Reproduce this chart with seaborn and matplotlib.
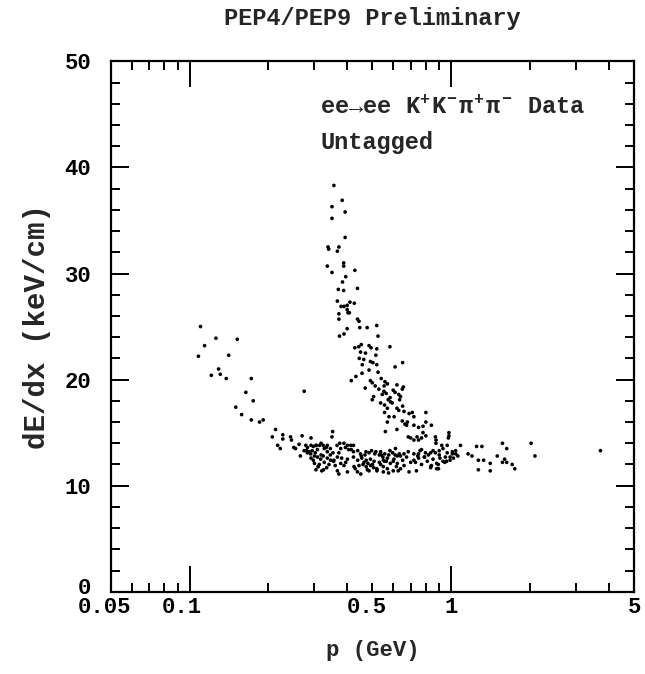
import matplotlib
matplotlib.use("Agg")
import matplotlib.pyplot as plt
import matplotlib.transforms as mtransforms
import pandas as pd
import seaborn as sns
from matplotlib.ticker import FixedLocator, FixedFormatter

# ---- data: (p [GeV], dE/dx [keV/cm]) ----
kaon_p = [0.356, 0.383, 0.350, 0.393, 0.350, 0.393, 0.338, 0.340, 0.372, 0.367,
          0.388, 0.388, 0.336, 0.428, 0.350, 0.395, 0.384, 0.370, 0.388, 0.438,
          0.367, 0.410, 0.400, 0.426, 0.379, 0.389, 0.400, 0.408, 0.403, 0.372,
          0.372, 0.438, 0.444, 0.400, 0.447, 0.477, 0.519, 0.374, 0.389, 0.525,
          0.583, 0.428, 0.443, 0.453, 0.485, 0.494, 0.519, 0.450, 0.470, 0.515,
          0.445, 0.463, 0.491, 0.502, 0.519, 0.652, 0.457, 0.485, 0.525, 0.456,
          0.432, 0.415, 0.491, 0.499, 0.512, 0.540, 0.558, 0.570, 0.554, 0.469,
          0.529, 0.620, 0.650, 0.656, 0.553, 0.564, 0.505, 0.499, 0.574, 0.584,
          0.586, 0.610, 0.630, 0.640, 0.635, 0.537, 0.556, 0.570, 0.595, 0.652,
          0.620, 0.630, 0.556, 0.578, 0.605, 0.710, 0.720, 0.800, 0.570, 0.650,
          0.665, 0.675, 0.680, 0.720, 0.750, 0.780, 0.800, 0.840, 0.560, 0.620,
          0.685, 0.700, 0.720, 0.740, 0.750, 0.770, 0.780, 0.800, 0.870, 0.875,
          0.980, 0.980, 0.975, 0.610, 0.545, 0.660, 0.690, 0.600]
kaon_dedx = [38.3, 36.9, 36.3, 35.8, 35.2, 33.4, 32.5, 32.3, 32.5, 32.1,
             31.0, 30.7, 30.7, 30.3, 30.1, 29.7, 29.2, 28.5, 28.4, 28.6,
             27.4, 27.3, 27.0, 27.2, 26.9, 26.9, 26.6, 26.3, 26.3, 26.2,
             25.7, 25.7, 25.5, 24.8, 24.9, 24.9, 25.1, 24.1, 24.3, 24.1,
             23.1, 23.0, 23.1, 23.3, 23.2, 23.0, 22.9, 22.6, 22.5, 22.3,
             22.0, 21.9, 21.7, 21.6, 21.4, 21.6, 21.4, 20.9, 20.7, 20.6,
             20.3, 19.9, 19.9, 19.7, 19.4, 20.1, 19.8, 19.6, 19.4, 19.2,
             19.1, 19.5, 19.1, 19.3, 18.9, 18.7, 18.4, 18.1, 18.1, 18.3,
             17.9, 18.8, 18.6, 18.4, 18.1, 17.8, 17.6, 17.3, 17.8, 17.5,
             17.3, 17.1, 16.9, 16.5, 16.5, 16.9, 16.5, 16.9, 16.0, 16.1,
             15.8, 15.7, 16.0, 15.7, 15.5, 15.6, 16.0, 15.7, 15.1, 15.3,
             14.6, 14.5, 14.3, 14.6, 14.3, 14.5, 15.0, 14.7, 14.6, 14.3,
             15.0, 14.7, 14.5, 21.2, 18.6, 17.0, 16.8, 19.0]

pion_low_p = [0.110, 0.126, 0.152, 0.114, 0.108, 0.141, 0.129, 0.121, 0.131, 0.138,
              0.172, 0.164, 0.175, 0.274, 0.150, 0.158, 0.172, 0.185, 0.191, 0.213,
              0.207, 0.227, 0.227, 0.217, 0.222, 0.243, 0.245, 0.250, 0.254, 0.269,
              0.291, 0.352, 0.350]
pion_low_dedx = [25.0, 23.9, 23.8, 23.2, 22.2, 22.3, 21.0, 20.4, 20.5, 20.1,
                 20.1, 18.8, 18.0, 18.9, 17.4, 16.7, 16.2, 16.0, 16.2, 15.3,
                 14.6, 14.8, 14.4, 13.8, 13.5, 14.6, 14.3, 13.6, 13.5, 14.7,
                 14.5, 15.1, 14.6]

pion_flat_p = [0.278, 0.282, 0.291, 0.297, 0.304, 0.314, 0.324, 0.336, 0.333,
               0.274, 0.282, 0.294, 0.302, 0.308,
               0.291, 0.297, 0.308, 0.317, 0.324, 0.336, 0.346,
               0.300, 0.313, 0.327, 0.341, 0.304, 0.320, 0.334,
               0.367, 0.372, 0.401,
               0.366, 0.375, 0.389, 0.401, 0.413, 0.423, 0.378, 0.394, 0.353,
               0.367, 0.381, 0.401, 0.423, 0.378, 0.389,
               0.439, 0.450, 0.468, 0.485, 0.496, 0.515, 0.531, 0.548, 0.557, 0.577,
               0.597, 0.622, 0.633,
               0.439, 0.455, 0.473, 0.491, 0.507, 0.531, 0.550, 0.570, 0.600, 0.622, 0.652,
               0.444, 0.473, 0.492, 0.519, 0.550, 0.570, 0.617,
               0.438, 0.451, 0.485, 0.550, 0.576, 0.627,
               0.685, 0.720, 0.745, 0.770, 0.797, 0.818, 0.852, 0.870, 0.900, 0.930,
               0.965, 0.990, 1.040, 1.060, 1.085,
               0.720, 0.750, 0.810, 0.852, 0.880, 0.960, 0.990, 1.020,
               0.835, 0.880, 0.892, 0.840,
               0.690, 0.736, 0.834, 0.894,
               0.874, 0.920, 0.965,
               1.160, 1.200, 1.250, 1.270, 1.310, 1.330, 1.410, 1.270, 1.410,
               1.500, 1.570, 1.630, 1.600, 1.630, 1.710, 1.750, 1.570,
               2.020, 2.090, 3.720,
               0.262, 0.286, 0.318, 0.345, 0.360, 0.395, 0.415, 0.460, 0.505, 0.540,
               0.585, 0.612, 0.660, 0.700, 0.760, 0.790, 0.905, 0.945, 1.010, 0.265,
               0.310, 0.355, 0.430, 0.480, 0.520, 0.565, 0.640, 0.675]
pion_flat_dedx = [13.8, 13.6, 13.8, 13.7, 13.8, 13.8, 13.8, 13.8, 13.6,
                  13.3, 13.1, 13.3, 13.1, 13.4,
                  12.6, 12.4, 12.7, 12.5, 12.8, 12.6, 12.4,
                  12.1, 12.0, 12.2, 12.0, 11.5, 11.4, 11.7,
                  11.4, 11.1, 11.3,
                  13.8, 14.0, 14.0, 13.8, 13.8, 13.8, 13.5, 13.6, 13.1,
                  12.7, 12.6, 12.5, 12.7, 12.1, 11.9,
                  13.3, 13.0, 12.9, 13.1, 13.3, 13.2, 12.9, 12.7, 13.0, 12.9,
                  13.1, 12.8, 13.0,
                  12.4, 12.6, 12.4, 12.5, 12.3, 12.2, 12.4, 12.6, 12.3, 12.1, 12.4,
                  11.9, 11.8, 11.9, 11.6, 11.8, 11.6, 11.8,
                  11.3, 11.1, 11.4, 11.3, 11.2, 11.4,
                  13.2, 13.0, 12.8, 13.4, 13.1, 12.9, 13.3, 13.1, 12.9, 13.5,
                  13.1, 12.7, 13.0, 12.8, 13.8,
                  12.4, 12.6, 12.3, 12.5, 12.1, 12.3, 12.4, 12.6,
                  11.8, 11.6, 12.0, 11.9,
                  11.3, 11.4, 11.7, 11.6,
                  14.0, 13.8, 13.8,
                  13.0, 12.8, 13.7, 12.4, 13.7, 12.4, 12.1, 11.5, 11.4,
                  12.8, 14.0, 13.5, 12.5, 12.2, 12.0, 11.6, 12.2,
                  14.0, 12.8, 13.3,
                  13.9, 13.2, 12.9, 13.5, 11.9, 12.2, 13.4, 12.0, 11.7, 12.9,
                  12.1, 13.5, 11.9, 12.2, 13.3, 12.7, 12.6, 12.2, 13.2, 12.8,
                  11.8, 12.3, 11.6, 12.1, 11.5, 12.3, 11.6, 12.7]

pion_band2_p = [0.280, 0.305, 0.318, 0.327, 0.372, 0.405, 0.423, 0.453, 0.472, 0.510,
                0.537, 0.583, 0.610, 0.464, 0.500, 0.537, 0.556, 0.604, 0.750, 0.790,
                0.834, 0.900, 0.950, 1.010, 1.040, 0.640, 0.660, 0.730, 0.770, 0.930,
                0.290, 0.300, 0.336, 0.345, 0.356, 0.310, 0.325, 0.425, 0.478, 0.520,
                0.600]
pion_band2_dedx = [13.3, 13.8, 14.0, 13.5, 13.1, 13.4, 13.2, 12.8, 13.2, 13.0,
                   13.2, 13.3, 12.9, 12.2, 12.0, 12.0, 12.3, 12.5, 13.0, 12.7,
                   13.1, 13.3, 12.7, 13.0, 13.3, 12.8, 13.0, 12.2, 12.0, 12.3,
                   13.0, 12.8, 13.2, 12.9, 12.4, 11.8, 11.5, 11.8, 11.5, 11.4,
                   11.4]

x_tick_vals = [0.05, 0.1, 0.5, 1, 5]
x_tick_labels = ["0.05", "0.1", "0.5", "1", "5"]
x_minor_vals = [0.06, 0.07, 0.08, 0.09, 0.2, 0.3, 0.4, 0.6, 0.7, 0.8, 0.9, 2, 3, 4]
y_tick_vals = [0, 10, 20, 30, 40, 50]

df = pd.DataFrame({
    "p": kaon_p + pion_low_p + pion_flat_p + pion_band2_p,
    "dedx": kaon_dedx + pion_low_dedx + pion_flat_dedx + pion_band2_dedx,
})

sns.set_style("ticks")
FONT = ["Liberation Mono", "DejaVu Sans Mono"]
plt.rcParams["font.family"] = FONT
plt.rcParams["font.weight"] = "bold"
plt.rcParams["mathtext.fontset"] = "custom"
plt.rcParams["mathtext.rm"] = "Liberation Mono:bold"
plt.rcParams["mathtext.it"] = "Liberation Mono:bold"
plt.rcParams["mathtext.bf"] = "Liberation Mono:bold"

fig = plt.figure(figsize=(6.45, 6.74), dpi=100)
ax = fig.add_axes([0.172, 0.122, 0.811, 0.787])

sns.scatterplot(data=df, x="p", y="dedx", ax=ax, color="black", s=7,
                marker="o", edgecolor="none", linewidth=0, legend=False)

ax.set_xscale("log")
ax.set_xlim(0.05, 5)
ax.set_ylim(0, 50)

ax.xaxis.set_major_locator(FixedLocator(x_tick_vals))
ax.xaxis.set_major_formatter(FixedFormatter(x_tick_labels))
ax.xaxis.set_minor_locator(FixedLocator(x_minor_vals))
ax.xaxis.set_minor_formatter(FixedFormatter([""] * len(x_minor_vals)))
ax.yaxis.set_major_locator(FixedLocator(y_tick_vals))
ax.yaxis.set_minor_locator(FixedLocator(list(range(0, 51, 2))))

for sp in ax.spines.values():
    sp.set_linewidth(1.6)
    sp.set_color("black")

ax.tick_params(axis="both", which="both", direction="in", top=True, right=True,
               width=1.4, colors="black", labelsize=16)
ax.tick_params(axis="x", which="major", length=19, pad=4)
ax.tick_params(axis="y", which="major", length=13, pad=14)
ax.tick_params(axis="both", which="minor", length=6.5)

xticks = ax.xaxis.get_major_ticks()
# 0.5 tick is drawn short in the original
xticks[2].tick1line.set_markersize(6.5)
xticks[2].tick2line.set_markersize(6.5)
# small label shifts seen in the original (pixels)
for tk, dx in zip(xticks, [-6, -8, -6, 0, 0]):
    tk.label1.set_transform(tk.label1.get_transform() +
                            mtransforms.ScaledTranslation(dx / 100, 0, fig.dpi_scale_trans))
ytk0 = ax.yaxis.get_major_ticks()[0]
ytk0.label1.set_transform(ytk0.label1.get_transform() +
                          mtransforms.ScaledTranslation(0, 6 / 100, fig.dpi_scale_trans))

ax.set_xlabel("p (GeV)", fontsize=16, fontweight="bold")
ax.set_ylabel("dE/dx (keV/cm)", fontsize=21, fontweight="bold")
ax.xaxis.set_label_coords(0.5, -0.09)
ax.yaxis.set_label_coords(-0.115, 0.5)

ax.text(0.40, 0.913, r"ee→ee K$^{+\,}$K$^{-\,}\pi^{+\,}\pi^{-\,}$ Data",
        transform=ax.transAxes, fontsize=17, fontweight="bold", va="center", ha="left")
ax.text(0.40, 0.847, "Untagged", transform=ax.transAxes, fontsize=17,
        fontweight="bold", va="center", ha="left")

fig.text(0.578, 0.973, "PEP4/PEP9 Preliminary", fontsize=17, fontweight="bold",
         ha="center", va="center")

fig.savefig("out.png", dpi=100)
